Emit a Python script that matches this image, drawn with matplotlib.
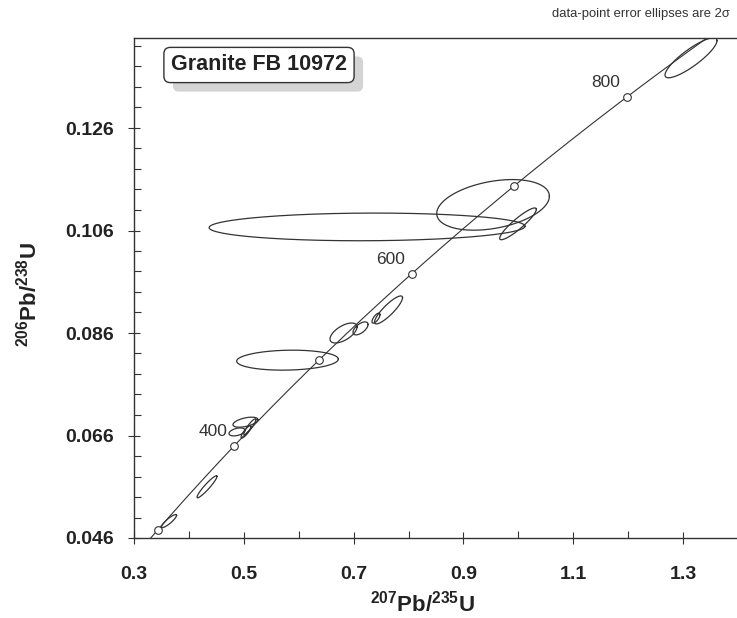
import numpy as np
import matplotlib
matplotlib.use("Agg")
import matplotlib.pyplot as plt
from matplotlib import transforms
from matplotlib.patches import FancyBboxPatch

plt.rcParams['font.family'] = ['Liberation Sans', 'DejaVu Sans']
plt.rcParams['mathtext.fontset'] = 'custom'
plt.rcParams['mathtext.rm'] = 'Liberation Sans:bold'
plt.rcParams['mathtext.bf'] = 'Liberation Sans:bold'
plt.rcParams['mathtext.it'] = 'Liberation Sans:bold'

# ---- data ----
ell_x = [0.3638, 0.433, 0.4876, 0.503, 0.504, 0.511, 0.5796, 0.6816, 0.7126, 0.7408, 0.7636, 0.7245, 0.954, 0.9995, 1.3146]
ell_y = [0.0493, 0.0560, 0.0667, 0.0686, 0.0667, 0.0677, 0.0807, 0.0860, 0.0869, 0.0889, 0.0905, 0.1067, 0.1110, 0.1073, 0.1397]
ell_sx = [0.0137, 0.0182, 0.0146, 0.0228, 0.009, 0.011, 0.0926, 0.0246, 0.0137, 0.0073, 0.0255, 0.2877, 0.1026, 0.0334, 0.0474]
ell_sy = [0.00127, 0.00215, 0.00078, 0.00098, 0.0012, 0.00156, 0.00195, 0.00195, 0.00127, 0.00098, 0.00273, 0.0027, 0.00494, 0.0031, 0.0039]
ell_rho = [0.88, 0.94, 0.4, 0.5, 0.85, 0.9, 0.1, 0.6, 0.6, 0.7, 0.87, 0.05, 0.34, 0.91, 0.86]

marker_ages = [300, 400, 500, 600, 700, 800]
label_ages = [400, 600, 800]
x_ticks = [0.3, 0.5, 0.7, 0.9, 1.1, 1.3]
y_ticks = [0.046, 0.066, 0.086, 0.106, 0.126]

LAM238 = 1.55125e-10
LAM235 = 9.8485e-10

def concordia(t_ma):
    t = np.asarray(t_ma) * 1e6
    return np.exp(LAM235 * t) - 1, np.exp(LAM238 * t) - 1

col = '#333333'
fig = plt.figure(figsize=(7.37, 6.18), dpi=100)
ax = fig.add_axes([134/737, 1-538/618, 1-134/737, 500/618])
ax.set_xlim(0.3, 0.3 + 603/549)
ax.set_ylim(0.046, 0.046 + 500/5125)

# concordia
tc = np.linspace(250, 950, 600)
cx, cy = concordia(tc)
ax.plot(cx, cy, color=col, lw=0.8, zorder=3)
mx, my = concordia(marker_ages)
ax.plot(mx, my, 'o', ms=5.5, mfc='white', mec=col, mew=0.8, zorder=4)
for a in label_ages:
    lx, ly = concordia(a)
    ax.annotate(str(a), (lx, ly), xytext=(-5, 10), textcoords='offset points',
                ha='right', va='center', fontsize=12.5, color=col)

# error ellipses
th = np.linspace(0, 2*np.pi, 300)
for x0, y0, sx, sy, r in zip(ell_x, ell_y, ell_sx, ell_sy, ell_rho):
    cov = np.array([[sx*sx, r*sx*sy], [r*sx*sy, sy*sy]])
    L = np.linalg.cholesky(cov)
    pts = L @ np.vstack([np.cos(th), np.sin(th)])
    ax.plot(x0 + pts[0], y0 + pts[1], color=col, lw=0.9, zorder=2)

# axes styling
ax.spines['right'].set_visible(False)
for s in ['left', 'bottom', 'top']:
    ax.spines[s].set_color(col)
    ax.spines[s].set_linewidth(1.0)
ax.set_xticks(x_ticks)
ax.set_xticks(np.arange(0.4, 1.4, 0.2), minor=True)
ax.set_yticks(y_ticks)
ax.set_yticks(np.arange(0.050, 0.1436, 0.004), minor=True)
ax.set_xticklabels([f'{v:.1f}' for v in x_ticks])
ax.set_yticklabels([f'{v:.3f}' for v in y_ticks])
ax.tick_params(which='major', direction='inout', length=9, width=0.8, color=col,
               labelsize=14, labelcolor='#222222')
ax.tick_params(axis='x', which='major', pad=15.5)
ax.tick_params(axis='y', which='major', pad=10)
ax.tick_params(which='minor', direction='in', length=5, width=0.8, color=col)
for lab in ax.get_xticklabels() + ax.get_yticklabels():
    lab.set_fontweight('bold')

ax.set_xlabel(r'$^{207}$Pb/$^{235}$U', fontsize=16, fontweight='bold', color='#222222')
ax.set_ylabel(r'$^{206}$Pb/$^{238}$U', fontsize=16, fontweight='bold', color='#222222')
ax.xaxis.set_label_coords(0.478, -0.106)
ax.yaxis.set_label_coords(-0.153, 0.486)

# title box with shadow
tx, ty = (259-134)/603, (538-65)/500
bs = 'round,pad=0.33,rounding_size=0.3'
title = ax.text(tx, ty, 'Granite FB 10972', transform=ax.transAxes, ha='center', va='center',
                fontsize=15.5, fontweight='bold', color='#222222',
                bbox=dict(boxstyle=bs, fc='white', ec=col, lw=1.0), zorder=6)
fig.canvas.draw()
bb = title.get_bbox_patch().get_window_extent()
shadow = FancyBboxPatch((bb.x0 + 9, bb.y0 - 9), bb.width, bb.height,
                        boxstyle='round,pad=0,rounding_size=6', fc='#d4d4d4', ec='none',
                        transform=transforms.IdentityTransform(), zorder=5)
ax.add_artist(shadow)

fig.text(730/737, 1-14/618, 'data-point error ellipses are 2σ', ha='right', va='center',
         fontsize=9.4, color=col)

fig.savefig('out.png', dpi=100)
